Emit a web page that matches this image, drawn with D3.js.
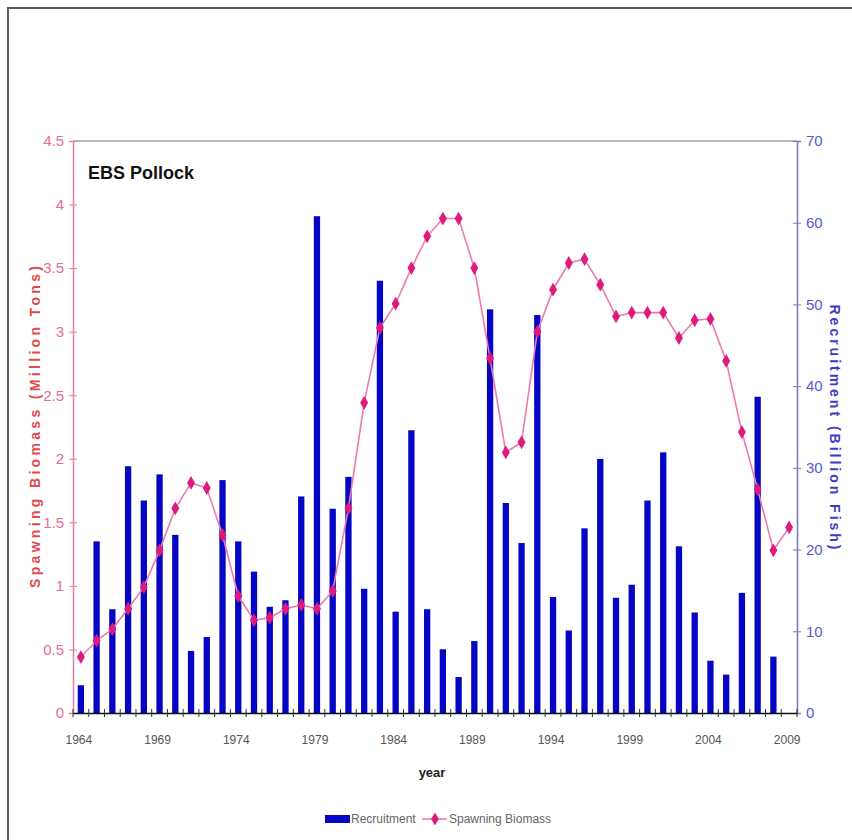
<!DOCTYPE html>
<html>
<head>
<meta charset="utf-8">
<script src="https://cdn.jsdelivr.net/npm/d3@7"></script>
<style>
  body { margin: 0; background: #fff; }
  svg { display: block; }
</style>
</head>
<body>
<script>
// categories
const years = d3.range(1964, 2010);
const yearLabels = [1964, 1969, 1974, 1979, 1984, 1989, 1994, 1999, 2004, 2009];

// recruitment, billion fish (no bar for 2009)
const recruitment = [3.4, 21.0, 12.7, 30.2, 26.0, 29.2, 21.8, 7.6, 9.3, 28.5,
                     21.0, 17.3, 13.0, 13.8, 26.5, 60.8, 25.0, 28.9, 15.2, 52.9,
                     12.4, 34.6, 12.7, 7.8, 4.4, 8.8, 49.4, 25.7, 20.8, 48.7,
                     14.2, 10.1, 22.6, 31.1, 14.1, 15.7, 26.0, 31.9, 20.4, 12.3,
                     6.4, 4.7, 14.7, 38.7, 6.9, null];

// spawning biomass, million tons
const biomass = [0.44, 0.57, 0.66, 0.82, 0.99, 1.28, 1.61, 1.81, 1.77, 1.40,
                 0.92, 0.73, 0.75, 0.82, 0.85, 0.82, 0.96, 1.61, 2.44, 3.03,
                 3.22, 3.50, 3.75, 3.89, 3.89, 3.50, 2.79, 2.05, 2.13, 3.00,
                 3.33, 3.54, 3.57, 3.37, 3.12, 3.15, 3.15, 3.15, 2.95, 3.09,
                 3.10, 2.77, 2.21, 1.76, 1.28, 1.46];

const leftTicks = [0, 0.5, 1, 1.5, 2, 2.5, 3, 3.5, 4, 4.5];
const rightTicks = [0, 10, 20, 30, 40, 50, 60, 70];

const width = 852, height = 840;
const plot = {left: 73, right: 797, top: 141, bottom: 713};
const narrow = "'Liberation Sans Narrow', 'Arial Narrow', 'Liberation Sans', Arial, sans-serif";
const sans = "'Liberation Sans', Arial, sans-serif";

const svg = d3.select("body").append("svg")
    .attr("width", width)
    .attr("height", height);

// outer chart frame
svg.append("rect")
    .attr("x", 8).attr("y", 8)
    .attr("width", 870).attr("height", 870)
    .attr("fill", "#fff")
    .attr("stroke", "#5e5e5e")
    .attr("stroke-width", 2);

const x = d3.scaleBand()
    .domain(years)
    .range([plot.left, plot.right])
    .paddingInner(0.6)
    .paddingOuter(0.3);

const yLeft = d3.scaleLinear().domain([0, 4.5]).range([plot.bottom, plot.top]);
const yRight = d3.scaleLinear().domain([0, 70]).range([plot.bottom, plot.top]);

// plot area top border
svg.append("line")
    .attr("x1", plot.left).attr("x2", plot.right)
    .attr("y1", plot.top).attr("y2", plot.top)
    .attr("stroke", "#a0a0a0").attr("stroke-width", 1.5);

// bars
const barData = years.map((yr, i) => ({year: yr, v: recruitment[i]})).filter(d => d.v != null);
svg.append("g").selectAll("rect")
    .data(barData)
    .join("rect")
    .attr("x", d => x(d.year))
    .attr("y", d => yRight(d.v))
    .attr("width", x.bandwidth())
    .attr("height", d => plot.bottom - yRight(d.v))
    .attr("fill", "#0505c4");

// left axis
const leftAxis = svg.append("g")
    .attr("transform", `translate(${plot.left},0)`)
    .call(d3.axisLeft(yLeft).tickValues(leftTicks).tickFormat(d => d).tickSize(4).tickPadding(5));
leftAxis.select(".domain").attr("stroke", "#e27fa6").attr("stroke-width", 1.5);
leftAxis.selectAll(".tick line").attr("stroke", "#e27fa6").attr("x2", 4).attr("x1", -4);
leftAxis.selectAll(".tick text")
    .attr("fill", "#e36f95")
    .style("font-family", narrow)
    .style("font-size", "15px");

// right axis
const rightAxis = svg.append("g")
    .attr("transform", `translate(${plot.right},0)`)
    .call(d3.axisRight(yRight).tickValues(rightTicks).tickSize(4).tickPadding(5));
rightAxis.select(".domain").attr("stroke", "#7474c8").attr("stroke-width", 1.5);
rightAxis.selectAll(".tick line").attr("stroke", "#7474c8").attr("x1", -4).attr("x2", 4);
rightAxis.selectAll(".tick text")
    .attr("fill", "#5a5ad0")
    .style("font-family", narrow)
    .style("font-size", "15px");

// x axis
const xAxis = svg.append("g")
    .attr("transform", `translate(0,${plot.bottom})`)
    .call(d3.axisBottom(x).tickValues(yearLabels).tickSize(0).tickPadding(22));
xAxis.select(".domain").attr("stroke", "#111").attr("stroke-width", 1.5);
xAxis.selectAll(".tick text")
    .attr("fill", "#555")
    .attr("dx", -2)
    .style("font-family", narrow)
    .style("font-size", "12px");

// category boundary tick marks
const step = x.step();
svg.append("g").selectAll("line")
    .data(d3.range(years.length + 1))
    .join("line")
    .attr("x1", i => plot.left + i * step)
    .attr("x2", i => plot.left + i * step)
    .attr("y1", plot.bottom - 4)
    .attr("y2", plot.bottom + 4)
    .attr("stroke", "#333")
    .attr("stroke-width", 1);

// biomass line
const cx = yr => x(yr) + x.bandwidth() / 2;
const lineData = years.map((yr, i) => ({year: yr, v: biomass[i]}));
svg.append("path")
    .datum(lineData)
    .attr("fill", "none")
    .attr("stroke", "#ec7ab0")
    .attr("stroke-width", 1.6)
    .attr("d", d3.line().x(d => cx(d.year)).y(d => yLeft(d.v)));

svg.append("g").selectAll("path")
    .data(lineData)
    .join("path")
    .attr("transform", d => `translate(${cx(d.year)},${yLeft(d.v)})`)
    .attr("d", d3.symbol(d3.symbolDiamond, 55))
    .attr("fill", "#e0197f");

// chart title
svg.append("text")
    .attr("x", 88).attr("y", 179)
    .attr("fill", "#111")
    .style("font-family", sans)
    .style("font-weight", "bold")
    .style("font-size", "18px")
    .text("EBS Pollock");

// axis titles
svg.append("text")
    .attr("transform", `translate(40,${(plot.top + plot.bottom) / 2}) rotate(-90)`)
    .attr("text-anchor", "middle")
    .attr("fill", "#e04a4a")
    .attr("textLength", 322)
    .attr("lengthAdjust", "spacing")
    .style("font-family", sans)
    .style("font-weight", "bold")
    .style("font-size", "14px")
    .text("Spawning Biomass (Million Tons)");

svg.append("text")
    .attr("transform", `translate(830,${(plot.top + plot.bottom) / 2}) rotate(90)`)
    .attr("text-anchor", "middle")
    .attr("fill", "#3c3cc8")
    .attr("textLength", 245)
    .attr("lengthAdjust", "spacing")
    .style("font-family", sans)
    .style("font-weight", "bold")
    .style("font-size", "14px")
    .text("Recruitment (Billion Fish)");

svg.append("text")
    .attr("x", 432).attr("y", 777)
    .attr("text-anchor", "middle")
    .attr("fill", "#222")
    .style("font-family", narrow)
    .style("font-weight", "bold")
    .style("font-size", "13px")
    .text("year");

// legend
const legend = svg.append("g").attr("transform", "translate(325,820)");
legend.append("rect")
    .attr("x", 0).attr("y", -5)
    .attr("width", 25).attr("height", 8)
    .attr("fill", "#0505c4");
legend.append("text")
    .attr("x", 26).attr("y", 3)
    .attr("fill", "#666")
    .style("font-family", narrow)
    .style("font-size", "12px")
    .text("Recruitment");
legend.append("line")
    .attr("x1", 97).attr("x2", 122)
    .attr("y1", -1).attr("y2", -1)
    .attr("stroke", "#ec7ab0").attr("stroke-width", 1.6);
legend.append("path")
    .attr("transform", "translate(110,-1)")
    .attr("d", d3.symbol(d3.symbolDiamond, 50))
    .attr("fill", "#e0197f");
legend.append("text")
    .attr("x", 124).attr("y", 3)
    .attr("fill", "#666")
    .style("font-family", narrow)
    .style("font-size", "12px")
    .text("Spawning Biomass");
</script>
</body>
</html>
